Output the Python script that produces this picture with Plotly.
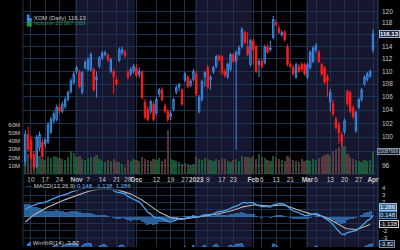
import math
import plotly.graph_objects as go

# ---------------- data (trading-day index, Oct 6 2022 = -2 ... Apr 3 2023 = 120) -------------
days = list(range(-2, 121))

opens = [96.5, 100.4, 99.6, 97.5, 95.8, 98.5, 99.3, 99.0, 99.3, 100.7, 102.4, 102.6, 104.5, 103.8, 104.5, 105.6,
         106.8, 108.2, 110.0, 109.8, 106.7, 110.6, 110.3, 110.3, 110.3, 108.7, 110.8, 112.2, 112.7, 112.6, 110.0,
         110.0, 108.7, 111.8, 113.0, 113.1, 109.8, 109.6, 110.0, 110.6, 109.5, 109.8, 105.2, 104.1, 103.8, 104.9,
         103.5, 106.5, 107.1, 104.6, 103.8, 103.0, 104.1, 106.7, 107.5, 107.1, 108.6, 109.1, 107.8, 108.7, 109.6,
         103.8, 105.6, 109.1, 110.6, 108.7, 110.0, 110.8, 112.4, 112.4, 110.0, 109.1, 110.3, 112.7, 111.6, 112.8,
         114.0, 116.4, 114.0, 111.1, 115.0, 114.0, 111.1, 111.6, 111.4, 114.0, 113.5, 115.5, 118.0, 117.1, 116.0,
         116.4, 114.0, 111.1, 110.6, 109.1, 110.8, 111.1, 111.1, 109.1, 110.6, 111.6, 113.5, 113.1, 111.1, 110.6,
         109.1, 105.2, 105.0, 102.6, 101.8, 100.4, 100.8, 106.9, 106.7, 104.4, 100.9, 104.4, 105.6, 108.0, 108.7,
         109.2, 113.5]
highs = [101.0, 101.5, 100.2, 98.0, 100.3, 100.8, 99.8, 99.9, 102.2, 103.0, 103.8, 104.8, 105.0, 105.3, 106.0, 107.0,
         108.9, 110.0, 110.9, 110.2, 110.1, 111.8, 112.3, 113.1, 110.6, 110.0, 112.5, 113.3, 113.4, 112.9, 112.2,
         110.4, 109.2, 113.9, 114.0, 113.6, 110.3, 110.7, 111.2, 111.2, 110.6, 110.2, 105.7, 104.6, 105.6, 105.3,
         106.0, 107.4, 107.5, 105.0, 104.1, 103.9, 105.9, 107.8, 108.2, 107.4, 109.9, 109.4, 108.8, 110.4, 110.0,
         106.3, 108.7, 110.0, 111.0, 109.4, 110.9, 112.7, 112.8, 112.6, 110.4, 111.4, 113.0, 113.0, 113.4, 114.2,
         117.3, 116.7, 116.4, 115.3, 115.4, 114.3, 112.0, 112.0, 114.3, 114.4, 115.0, 119.2, 118.6, 117.6, 116.8,
         116.8, 114.4, 111.6, 111.0, 111.4, 111.2, 111.5, 111.4, 111.4, 113.4, 114.1, 114.6, 113.5, 111.4, 110.9,
         109.5, 107.2, 105.6, 103.0, 102.2, 100.8, 102.7, 107.1, 107.0, 104.7, 103.9, 105.9, 107.4, 109.4, 109.9,
         110.3, 116.9]
lows = [96.0, 98.0, 96.8, 95.4, 95.6, 98.0, 96.9, 98.5, 99.0, 100.5, 102.0, 102.3, 103.4, 103.5, 104.2, 105.3,
        106.5, 107.9, 109.6, 107.3, 106.4, 110.3, 110.0, 110.0, 106.8, 105.9, 110.5, 111.8, 112.4, 111.5, 109.7,
        106.4, 107.7, 111.5, 112.6, 112.2, 108.7, 109.2, 109.7, 109.0, 109.0, 105.6, 102.6, 102.3, 103.4, 102.3,
        103.2, 106.0, 105.3, 103.5, 102.2, 102.5, 103.8, 106.4, 106.9, 104.6, 108.3, 107.3, 107.5, 108.4, 106.1,
        103.5, 105.3, 107.6, 107.2, 107.1, 109.6, 110.5, 111.6, 109.5, 109.0, 108.8, 110.0, 111.3, 98.2, 112.5,
        113.7, 114.4, 112.4, 110.8, 111.1, 109.7, 109.1, 110.5, 111.1, 112.8, 113.2, 115.2, 117.4, 116.1, 115.7,
        114.9, 110.8, 110.5, 109.3, 108.8, 109.7, 110.0, 109.3, 108.8, 110.3, 111.3, 113.0, 111.3, 109.3, 108.0,
        106.0, 103.8, 103.1, 101.1, 99.0, 98.6, 100.4, 104.6, 103.5, 102.7, 100.6, 104.1, 105.3, 107.7, 108.4,
        109.0, 113.0]
closes = [100.4, 98.2, 97.1, 95.7, 100.0, 100.4, 97.2, 99.6, 101.8, 102.6, 103.4, 104.4, 103.8, 104.9, 105.6, 106.7,
          108.5, 109.6, 110.6, 107.6, 109.8, 111.4, 111.9, 112.7, 107.1, 109.1, 112.2, 112.9, 113.0, 111.9, 111.9,
          109.1, 108.0, 113.5, 113.5, 112.5, 109.1, 110.3, 110.8, 109.3, 110.0, 105.9, 102.9, 102.6, 105.3, 102.6,
          105.6, 107.1, 105.6, 103.8, 102.6, 103.5, 105.6, 107.5, 107.9, 104.9, 109.6, 107.6, 108.5, 110.0, 106.4,
          105.9, 108.4, 109.8, 107.5, 109.1, 110.6, 112.4, 111.9, 109.8, 109.4, 111.1, 112.7, 111.6, 113.1, 113.8,
          116.9, 114.7, 112.7, 115.0, 113.5, 110.0, 111.6, 110.8, 114.0, 113.1, 113.8, 118.6, 117.7, 116.4, 116.4,
          115.2, 111.1, 110.8, 109.6, 111.1, 110.0, 110.3, 109.6, 111.1, 113.1, 113.8, 114.2, 111.6, 109.6, 108.3,
          108.5, 106.7, 103.4, 101.4, 100.6, 99.3, 102.4, 104.9, 103.8, 103.0, 103.6, 105.6, 107.1, 109.1, 109.6,
          110.0, 116.13]

volume_m = [22, 24, 20, 18, 26, 22, 18, 17, 20, 19, 22, 20, 19, 18, 17, 21, 28,
            26, 20, 22, 18, 17, 19, 21, 20, 23, 18, 16, 15, 17, 16, 18, 14, 15, 12, 8, 17, 16, 18,
            17, 16, 20, 18, 17, 16, 18, 17, 19, 16, 18, 53, 18, 17, 16, 14, 12, 13, 12, 11, 12,
            20, 18, 17, 19, 18, 17, 16, 18, 17, 19, 18, 16, 15, 17, 18, 16, 22, 20, 21, 19,
            22, 18, 24, 20, 19, 17, 16, 22, 20, 18, 17, 16, 22, 19, 17, 16, 15, 18, 16,
            17, 16, 18, 17, 19, 21, 23, 24, 22, 28, 30, 33, 43, 34, 24, 20, 18, 17, 16, 15, 17, 16, 17, 27]

macd = [1.00, 1.25, 1.45, 1.55, 1.75, 1.90, 1.85, 1.95, 2.15, 2.35, 2.55, 2.75, 2.85, 2.95, 3.05, 3.20, 3.40,
        3.55, 3.75, 3.80, 3.85, 3.95, 4.00, 4.10, 4.00, 3.95, 4.00, 4.05, 4.05, 3.95, 3.85, 3.65, 3.40, 3.35,
        3.30, 3.15, 2.80, 2.55, 2.40, 2.20, 2.05, 1.60, 1.05, 0.55, 0.35, -0.05, -0.20, -0.15, -0.30, -0.55,
        -0.75, -0.80, -0.70, -0.50, -0.35, -0.45, -0.25, -0.20, -0.10, 0.05, -0.10, -0.05, 0.10, 0.25, 0.20,
        0.25, 0.35, 0.55, 0.70, 0.70, 0.75, 0.90, 1.15, 1.25, 1.45, 1.60, 1.90, 1.95, 1.85, 1.95, 1.90, 1.65,
        1.50, 1.35, 1.40, 1.35, 1.30, 1.60, 1.75, 1.80, 1.80, 1.70, 1.40, 1.05, 0.75, 0.65, 0.45, 0.35, 0.15,
        0.10, 0.20, 0.30, 0.40, 0.25, 0.00, -0.25, -0.40, -0.75, -1.20, -1.70, -2.10, -2.50, -2.55, -2.30,
        -2.20, -2.15, -2.00, -1.75, -1.40, -1.00, -0.60, -0.40, 0.148]
signal = [-0.80, -0.45, -0.10, 0.20, 0.45, 0.70, 0.90, 1.10, 1.30, 1.50, 1.70, 1.85, 2.05, 2.20, 2.35, 2.50, 2.65,
          2.80, 3.00, 3.15, 3.30, 3.40, 3.50, 3.60, 3.70, 3.75, 3.80, 3.85, 3.85, 3.85, 3.85, 3.80, 3.75, 3.65,
          3.55, 3.45, 3.30, 3.15, 2.95, 2.75, 2.55, 2.30, 2.00, 1.70, 1.40, 1.10, 0.85, 0.60, 0.40, 0.20,
          0.00, -0.15, -0.25, -0.30, -0.35, -0.35, -0.35, -0.30, -0.25, -0.20, -0.15, -0.10, -0.05, 0.00,
          0.05, 0.10, 0.20, 0.30, 0.40, 0.45, 0.55, 0.65, 0.75, 0.85, 1.00, 1.15, 1.30, 1.40, 1.50, 1.55,
          1.60, 1.60, 1.55, 1.50, 1.45, 1.45, 1.45, 1.50, 1.55, 1.60, 1.60, 1.55, 1.45, 1.30, 1.15, 1.00,
          0.85, 0.70, 0.55, 0.45, 0.35, 0.30, 0.25, 0.15, 0.05, -0.10, -0.25, -0.45, -0.70, -0.95, -1.20,
          -1.45, -1.60, -1.75, -1.80, -1.85, -1.85, -1.75, -1.60, -1.45, -1.30, -1.138]

willr = [-15, -35, -55, -75, -30, -35, -70, -50, -30, -20, -12, -8, -20, -10, -8, -5, -3,
         -5, -2, -25, -10, -5, -4, -3, -40, -28, -12, -8, -7, -18, -20, -35, -45, -10, -8, -15, -50, -42, -38,
         -48, -42, -80, -95, -95, -75, -90, -65, -45, -60, -75, -85, -70, -45, -25, -20, -50, -12, -30, -22, -8,
         -40, -30, -15, -8, -30, -20, -12, -5, -10, -30, -35, -15, -8, -15, -5, -6, -3, -25, -40, -20,
         -30, -55, -45, -52, -30, -35, -30, -3, -10, -20, -20, -30, -65, -75, -85, -70, -78, -72, -85,
         -60, -30, -20, -10, -35, -55, -65, -70, -85, -95, -97, -90, -95, -80, -55, -62, -68, -50, -40, -28,
         -15, -10, -6, -3.82]

tick_pos = [0, 5, 10, 16, 20, 25, 30, 34, 37, 44, 49, 54, 58, 62, 67, 71, 78, 81, 86, 91, 97, 100, 105, 110, 115, 120]
tick_txt = ["10", "17", "24", "<b>Nov</b>", "7", "14", "21", "28", "<b>Dec</b>", "12", "19", "27", "<b>2023</b>",
            "9", "17", "23", "<b>Feb</b>", "6", "13", "21", "<b>Mar</b>", "6", "13", "20", "27", "<b>Apr</b>"]
price_ticks = [96, 98, 100, 102, 104, 106, 108, 110, 112, 114, 116, 118, 120]
price_labels = ["96", "", "100", "102", "104", "106", "108", "110", "112", "114", "", "118", "120"]
vol_ticks = [10, 20, 30, 40, 50, 60]
macd_ticks = [-3, -2, -1, 0, 1, 2, 3, 4]
macd_labels = ["-3", "-2", "", "", "", "2", "3", "4"]
month_bands = [(15.5, 36.5), (57.5, 77.5), (96.5, 121.75)]

# ---------------- styling ----------------
FONT = "Liberation Sans"
GRID = "#1b3252"
TXT = "#c9c9c9"
BLUE = "#3d8ee6"
RED = "#ff1c1c"
NAVY = "#16162f"

hist = [m - s for m, s in zip(macd, signal)]
vol_colors = ["rgba(34,110,66,0.75)" if c >= o else "rgba(110,70,70,0.75)" for o, c in zip(opens, closes)]

fig = go.Figure()

fig.add_trace(go.Bar(x=days, y=[v * 1e6 for v in volume_m], marker=dict(color=vol_colors, line=dict(width=0)),
                     width=0.8, xaxis="x", yaxis="y", showlegend=False))
fig.add_trace(go.Candlestick(x=days, open=opens, high=highs, low=lows, close=closes,
                             increasing=dict(line=dict(color=BLUE, width=1), fillcolor="rgba(40,95,170,0.55)"),
                             decreasing=dict(line=dict(color=RED, width=1), fillcolor=RED),
                             whiskerwidth=0, xaxis="x", yaxis="y2", showlegend=False))

fig.add_trace(go.Bar(x=days, y=hist, marker=dict(color="rgba(55,125,200,0.75)", line=dict(width=0)), width=1.0,
                     xaxis="x2", yaxis="y3", showlegend=False))
fig.add_trace(go.Scatter(x=days, y=signal, mode="lines", line=dict(color="#b8b8b8", width=1.1),
                         xaxis="x2", yaxis="y3", showlegend=False))
fig.add_trace(go.Scatter(x=days, y=macd, mode="lines", line=dict(color="#4aa0ef", width=1.3),
                         xaxis="x2", yaxis="y3", showlegend=False))

fig.add_trace(go.Scatter(x=days, y=[-100] * len(days), mode="lines", line=dict(width=0),
                         xaxis="x3", yaxis="y4", showlegend=False, hoverinfo="skip"))
fig.add_trace(go.Scatter(x=days, y=willr, mode="lines", line=dict(color=BLUE, width=1), fill="tonexty",
                         fillcolor="rgba(50,120,200,0.7)", xaxis="x3", yaxis="y4", showlegend=False))

xcommon = dict(range=[-2.8, 121.75], tickvals=tick_pos, showgrid=True, gridcolor=GRID, gridwidth=1,
               zeroline=False, showline=False, ticks="", tickangle=0)

shapes = []
for a, b in month_bands:
    shapes.append(dict(type="rect", xref="x", yref="paper", x0=a, x1=b, y0=0, y1=1,
                       fillcolor=NAVY, line=dict(width=0), layer="below"))
for yy in [0.296, 0.26, 0.036]:
    shapes.append(dict(type="line", xref="paper", yref="paper", x0=0, x1=1, y0=yy, y1=yy,
                       line=dict(color=GRID, width=1), layer="below"))
shapes.append(dict(type="line", xref="paper", yref="paper", x0=0, x1=0, y0=0, y1=1,
                   line=dict(color=GRID, width=1), layer="below"))
shapes.append(dict(type="line", xref="paper", yref="paper", x0=1, x1=1, y0=0, y1=1,
                   line=dict(color="#2a4466", width=1), layer="below"))

p_top, p_bot = 122.0, 94.8

def box(text, yref, y, bg, border, color="#ffffff", size=6, x=1.003):
    return dict(text=text, xref="paper", x=x, xanchor="left", yref=yref, y=y, yanchor="middle",
                showarrow=False, font=dict(family=FONT, size=size, color=color), bgcolor=bg,
                bordercolor=border, borderwidth=1, borderpad=0)

annotations = [
    dict(text="<span style='color:#3d8ee6'>▙</span> XOM (Daily) 116.13", xref="paper", x=0.003, xanchor="left",
         yref="paper", y=0.927, yanchor="middle", showarrow=False, font=dict(family=FONT, size=6, color=TXT)),
    dict(text="▆ Volume 20,087,669", xref="paper", x=0.003, xanchor="left",
         yref="paper", y=0.903, yanchor="middle", showarrow=False, font=dict(family=FONT, size=6, color="#1f9a55")),
    dict(text="<span style='color:#4aa0ef'>—</span> MACD(12,26,9) <span style='color:#6fb4f0'>0.148, -1.138, 1.286</span>",
         xref="paper", x=0.003, xanchor="left", yref="paper", y=0.247, yanchor="middle", showarrow=False,
         font=dict(family=FONT, size=6, color=TXT), bgcolor="rgba(0,0,0,0.6)"),
    dict(text="<span style='color:#3d8ee6'>◢</span> Wm%R(14) -3.82", xref="paper", x=0.003, xanchor="left",
         yref="paper", y=0.018, yanchor="middle", showarrow=False, font=dict(family=FONT, size=6, color=TXT)),
    box("<b>116.13</b>", "y2", math.log10(116.13), "#1b2c48", "#9fb3cf"),
    box("20087669", "y", volume_m[-1] * 1e6, "#0c1a2a", "#7d93b0", "#d8d8d8", 4.5, 0.996),
    box("1.286", "y3", 1.286, "#3b6a9a", "#9cc0e6"),
    box("0.148", "y3", 0.148, "#13283f", "#4a90d9", "#d8e8ff"),
    box("-1.138", "y3", -1.138, "#101018", "#d0d0d0", "#e0e0e0"),
    box("-3.82", "y4", -3.82, "#0c1a2a", "#6f8db0", "#e0e0e0"),
]

fig.update_layout(
    width=400, height=250, margin=dict(l=23, r=22, t=0, b=0),
    paper_bgcolor="#000000", plot_bgcolor="#000000",
    font=dict(family=FONT, size=6, color=TXT),
    showlegend=False, bargap=0, barmode="overlay",
    xaxis=dict(**xcommon, anchor="y", domain=[0, 1], ticktext=tick_txt, showticklabels=True,
               tickfont=dict(family=FONT, size=6.5, color=TXT), rangeslider=dict(visible=False),
               ticklabelstandoff=1),
    yaxis=dict(domain=[0.296, 1], range=[0, 212e6], side="left", tickvals=[v * 1e6 for v in vol_ticks],
               ticktext=[f"{v}M" for v in vol_ticks], showgrid=False, zeroline=False, ticks="",
               tickfont=dict(family=FONT, size=6, color=TXT), ticklabelstandoff=2),
    yaxis2=dict(overlaying="y", anchor="x", side="right", type="log",
                range=[math.log10(p_bot), math.log10(p_top)], tickvals=price_ticks,
                ticktext=price_labels, showgrid=True, gridcolor=GRID, zeroline=False, ticks="",
                tickfont=dict(family=FONT, size=6.5, color=TXT), ticklabelstandoff=3),
    xaxis2=dict(**xcommon, anchor="y3", matches="x", showticklabels=False),
    yaxis3=dict(domain=[0.036, 0.26], range=[-3.06, 4.72], side="right", anchor="x2", tickvals=macd_ticks,
                ticktext=macd_labels, showgrid=True, gridcolor=GRID, zeroline=False,
                ticks="", tickfont=dict(family=FONT, size=6, color=TXT), ticklabelstandoff=3),
    xaxis3=dict(**xcommon, anchor="y4", matches="x", showticklabels=False),
    yaxis4=dict(domain=[0, 0.036], range=[-15, 15], side="right", anchor="x3", showgrid=False,
                zeroline=False, showticklabels=False, ticks=""),
    shapes=shapes, annotations=annotations,
)

fig.write_html("out.html")
